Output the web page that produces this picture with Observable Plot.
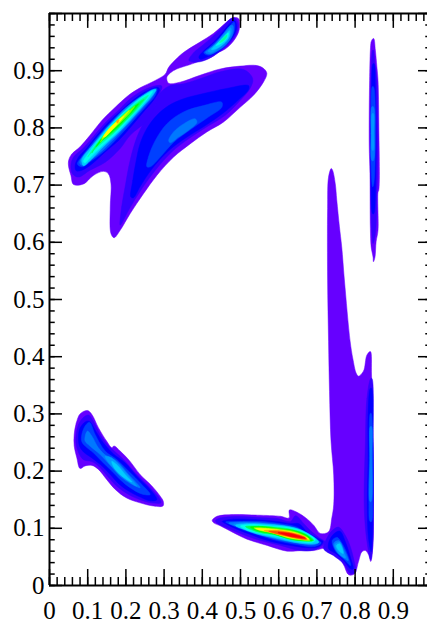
<!DOCTYPE html>
<html><head><meta charset="utf-8">
<style>html,body{margin:0;padding:0;background:#fff;overflow:hidden}svg{display:block}</style>
<script src="https://cdn.jsdelivr.net/npm/d3@7"></script>
<script src="https://cdn.jsdelivr.net/npm/@observablehq/plot@0.6"></script>
</head><body><div id="chart"></div>
<script>
const levelColors=["#6600ff","#3300ff","#0000ff","#0040ff","#0078ff","#0099ff","#00ccff","#00ffee","#00ffa0","#00ff55","#00ff00","#80ff00","#c8ff00","#ffff00","#ffaa00","#ff5500","#ff0000"];
const xMajor=[0,.1,.2,.3,.4,.5,.6,.7,.8,.9,1];
const yMajor=[0,.1,.2,.3,.4,.5,.6,.7,.8,.9,1];
const xMinor=d3.range(0,51).map(i=>i/50);
const yMinor=d3.range(0,51).map(i=>i/50);
const xLabels=[0,.1,.2,.3,.4,.5,.6,.7,.8,.9];
const yLabels=[0,.1,.2,.3,.4,.5,.6,.7,.8,.9];

const upperOutline=[[.050,.743],[.058,.754],[.080,.767],[.106,.787],[.137,.813],[.172,.836],[.207,.857],[.237,.870],[.277,.883],[.303,.894],[.312,.906],[.342,.927],[.360,.936],[.394,.950],[.429,.965],[.464,.985],[.482,.993],[.495,.991],[.497,.973],[.486,.956],[.460,.938],[.421,.927],[.386,.915],[.360,.909],[.333,.903],[.316,.896],[.307,.888],[.312,.878],[.342,.880],[.394,.892],[.447,.903],[.499,.908],[.543,.909],[.562,.903],[.569,.895],[.560,.880],[.534,.857],[.499,.836],[.455,.810],[.412,.793],[.368,.772],[.325,.749],[.281,.717],[.246,.685],[.211,.650],[.185,.621],[.169,.608],[.161,.615],[.159,.662],[.161,.702],[.154,.720],[.141,.724],[.115,.717],[.089,.702],[.063,.701],[.056,.717],[.050,.732]];
const body2=[[.185,.630],[.189,.662],[.198,.697],[.211,.743],[.229,.784],[.250,.813],[.277,.839],[.285,.857],[.312,.873],[.351,.877],[.403,.888],[.447,.898],[.508,.902],[.532,.886],[.525,.869],[.499,.848],[.460,.822],[.412,.802],[.364,.781],[.320,.758],[.277,.726],[.242,.694],[.207,.656],[.189,.633]];
const body3=[[.213,.679],[.218,.708],[.227,.743],[.237,.772],[.255,.799],[.281,.822],[.312,.839],[.351,.851],[.403,.860],[.464,.869],[.521,.874],[.521,.867],[.495,.849],[.455,.826],[.408,.804],[.360,.784],[.312,.760],[.268,.728],[.237,.697],[.220,.678]];
const body4=[[.255,.732],[.259,.749],[.277,.778],[.307,.807],[.351,.828],[.403,.839],[.451,.845],[.451,.836],[.416,.819],[.373,.799],[.325,.775],[.290,.749],[.264,.732]];
const body5=[[.312,.778],[.325,.793],[.351,.807],[.381,.816],[.386,.810],[.364,.796],[.338,.784],[.316,.774]];
const ridge2=[[.056,.734],[.063,.749],[.089,.765],[.115,.785],[.146,.809],[.181,.831],[.211,.851],[.246,.866],[.281,.874],[.294,.873],[.285,.854],[.277,.839],[.257,.814],[.211,.787],[.185,.764],[.146,.740],[.106,.726],[.076,.714],[.061,.719]];
const ridge3=[[.067,.734],[.076,.749],[.098,.765],[.124,.787],[.154,.810],[.189,.831],[.220,.849],[.250,.863],[.283,.871],[.288,.867],[.272,.848],[.250,.831],[.216,.804],[.181,.778],[.146,.758],[.111,.737],[.085,.726],[.070,.725]];
const ridge4=[[.073,.737],[.085,.750],[.106,.768],[.133,.790],[.163,.812],[.194,.832],[.229,.851],[.264,.866],[.281,.869],[.277,.857],[.255,.839],[.220,.813],[.185,.787],[.146,.761],[.111,.743],[.085,.732]];
const ridge5=[[.079,.739],[.089,.752],[.111,.769],[.137,.791],[.168,.813],[.198,.834],[.233,.851],[.265,.864],[.277,.866],[.270,.855],[.248,.838],[.213,.812],[.178,.787],[.141,.762],[.108,.744],[.087,.734]];
const ridge6=[[.082,.742],[.093,.754],[.115,.771],[.141,.793],[.172,.815],[.202,.835],[.236,.853],[.259,.861],[.275,.866],[.268,.857],[.242,.836],[.207,.812],[.175,.790],[.137,.765],[.106,.748],[.089,.739]];
const ridge7=[[.085,.744],[.106,.764],[.128,.781],[.154,.802],[.185,.822],[.216,.841],[.246,.857],[.272,.867],[.279,.867],[.270,.857],[.246,.839],[.211,.813],[.178,.790],[.141,.767],[.111,.746],[.089,.734]];
const ridge8=[[.089,.741],[.111,.764],[.133,.783],[.159,.803],[.189,.824],[.220,.842],[.250,.857],[.270,.864],[.264,.857],[.242,.839],[.207,.814],[.175,.791],[.137,.768],[.106,.748],[.093,.739]];
const ridge9=[[.100,.749],[.115,.765],[.137,.784],[.163,.804],[.194,.825],[.224,.842],[.250,.854],[.259,.857],[.253,.851],[.233,.835],[.201,.813],[.169,.791],[.133,.771],[.106,.754]];
const ridge10=[[.111,.756],[.124,.771],[.146,.789],[.169,.806],[.198,.825],[.227,.841],[.248,.850],[.237,.841],[.220,.828],[.194,.810],[.163,.790],[.133,.775],[.115,.761]];
const ridge11=[[.122,.767],[.134,.779],[.154,.795],[.176,.810],[.202,.826],[.233,.842],[.224,.834],[.204,.820],[.185,.806],[.159,.790],[.133,.775]];
const ridge12=[[.133,.775],[.146,.789],[.163,.802],[.183,.816],[.207,.829],[.223,.838],[.209,.825],[.185,.809],[.159,.793],[.141,.781]];
const ridge13=[[.137,.781],[.150,.793],[.169,.806],[.189,.819],[.209,.831],[.194,.818],[.172,.803],[.150,.789]];
const ridge14=[[.141,.784],[.154,.797],[.172,.809],[.194,.820],[.181,.809],[.163,.796],[.147,.785]];
const ridge15=[[.175,.812],[.182,.814],[.178,.808]];
const top2=[[.365,.918],[.378,.932],[.400,.944],[.426,.959],[.452,.976],[.474,.991],[.485,.992],[.494,.982],[.489,.964],[.470,.947],[.443,.932],[.417,.921],[.387,.915]];
const top3=[[.391,.924],[.404,.935],[.430,.950],[.456,.970],[.476,.985],[.485,.988],[.490,.976],[.483,.962],[.465,.947],[.439,.932],[.413,.924],[.395,.920]];
const top4=[[.404,.931],[.421,.942],[.448,.959],[.470,.976],[.483,.985],[.485,.973],[.478,.960],[.461,.944],[.439,.934],[.417,.927]];
const top5=[[.408,.932],[.430,.944],[.452,.962],[.474,.979],[.480,.979],[.480,.965],[.465,.948],[.443,.936],[.421,.929]];
const top6=[[.415,.934],[.435,.947],[.456,.963],[.474,.975],[.476,.967],[.465,.953],[.443,.940],[.424,.932]];
const top7=[[.424,.937],[.443,.950],[.461,.963],[.471,.970],[.470,.959],[.456,.947],[.435,.938]];
const top8=[[.436,.944],[.452,.956],[.468,.966],[.465,.957],[.452,.949]];
const top9=[[.445,.949],[.459,.960],[.465,.963],[.461,.956],[.450,.950]];
const stripOutline=[[.8466,.956],[.842,.950],[.840,.936],[.838,.883],[.837,.831],[.837,.767],[.839,.720],[.840,.624],[.842,.592],[.847,.574],[.848,.566],[.852,.574],[.855,.601],[.860,.621],[.860,.688],[.862,.691],[.862,.810],[.860,.883],[.857,.907],[.853,.936],[.849,.956]];
const strip2=[[.846,.936],[.842,.895],[.840,.831],[.840,.767],[.841,.674],[.844,.615],[.847,.598],[.853,.615],[.857,.674],[.860,.790],[.857,.883],[.852,.912],[.848,.936]];
const strip3=[[.847,.912],[.843,.866],[.841,.790],[.842,.697],[.846,.650],[.849,.650],[.854,.708],[.855,.802],[.853,.874],[.850,.912]];
const strip4=[[.845,.872],[.842,.819],[.842,.732],[.846,.697],[.849,.703],[.853,.767],[.853,.831],[.848,.872]];
const strip5=[[.844,.837],[.842,.790],[.844,.743],[.848,.743],[.851,.790],[.848,.837]];
const strip6=[[.845,.825],[.843,.790],[.845,.761],[.848,.761],[.849,.790],[.848,.825]];
const lowerOutline=[[.426,.114],[.439,.121],[.482,.124],[.544,.123],[.605,.121],[.627,.118],[.628,.132],[.648,.128],[.675,.116],[.692,.105],[.709,.091],[.7305,.094],[.739,.118],[.744,.141],[.744,.193],[.737,.252],[.733,.339],[.7305,.427],[.728,.534],[.728,.659],[.7305,.714],[.7375,.729],[.741,.726],[.748,.703],[.752,.674],[.759,.627],[.765,.592],[.772,.534],[.787,.427],[.794,.397],[.803,.371],[.809,.366],[.822,.375],[.831,.403],[.840,.409],[.843,.368],[.847,.252],[.848,.135],[.847,.077],[.841,.042],[.835,.054],[.827,.061],[.818,.059],[.809,.042],[.798,.020],[.783,.019],[.770,.036],[.748,.059],[.722,.065],[.691,.061],[.659,.061],[.622,.060],[.570,.070],[.517,.081],[.474,.095],[.448,.104],[.430,.1095]];
const bottom2=[[.4345,.1135],[.4476,.118],[.491,.1205],[.544,.119],[.596,.117],[.631,.112],[.644,.122],[.666,.108],[.683,.096],[.705,.084],[.7226,.0756],[.714,.070],[.692,.062],[.657,.061],[.605,.070],[.552,.0786],[.500,.091],[.461,.102],[.439,.109]];
const bottom3=[[.452,.112],[.482,.116],[.544,.115],[.596,.112],[.631,.108],[.653,.108],[.675,.093],[.705,.0815],[.716,.077],[.705,.068],[.675,.066],[.631,.070],[.579,.077],[.526,.089],[.482,.101],[.461,.108]];
const bottom4=[[.461,.111],[.500,.112],[.552,.112],[.605,.108],[.648,.102],[.675,.090],[.705,.0785],[.711,.074],[.692,.068],[.648,.0715],[.596,.0785],[.544,.089],[.500,.099],[.474,.1065]];
const bottom5=[[.469,.109],[.509,.111],[.561,.109],[.613,.105],[.657,.096],[.688,.083],[.705,.0756],[.692,.071],[.648,.0745],[.600,.080],[.548,.090],[.509,.099],[.482,.105]];
const bottom6=[[.482,.1065],[.517,.109],[.565,.108],[.622,.102],[.661,.093],[.692,.0815],[.702,.0756],[.688,.0727],[.648,.0774],[.600,.083],[.557,.091],[.517,.099],[.496,.103]];
const bottom7=[[.487,.105],[.517,.108],[.574,.1065],[.627,.103],[.666,.095],[.701,.0797],[.705,.0756],[.688,.0727],[.640,.0756],[.592,.083],[.548,.089],[.513,.097]];
const bottom8=[[.500,.104],[.535,.1065],[.583,.104],[.631,.101],[.670,.0925],[.696,.0797],[.683,.075],[.640,.0786],[.592,.0855],[.548,.0914],[.513,.098]];
const bottom10=[[.513,.103],[.548,.104],[.592,.102],[.635,.098],[.670,.090],[.692,.0786],[.675,.0774],[.635,.0797],[.592,.088],[.548,.093]];
const bottom11=[[.526,.102],[.557,.103],[.598,.0995],[.640,.096],[.673,.088],[.688,.0786],[.666,.0786],[.631,.081],[.587,.090],[.548,.095]];
const bottom12=[[.535,.1007],[.565,.1007],[.605,.0984],[.644,.0937],[.676,.084],[.682,.0786],[.657,.0797],[.627,.0826],[.587,.0914],[.552,.096]];
const bottom14=[[.539,.0995],[.574,.099],[.612,.096],[.648,.0914],[.679,.081],[.653,.081],[.622,.0844],[.583,.0925],[.548,.0972]];
const bottom15=[[.561,.096],[.592,.0966],[.627,.0937],[.661,.087],[.676,.0797],[.648,.082],[.618,.086],[.583,.092]];
const bottom16=[[.574,.095],[.600,.095],[.631,.092],[.666,.0855],[.673,.081],[.644,.083],[.613,.088],[.587,.092]];
const bottom17=[[.598,.0925],[.627,.0914],[.653,.087],[.670,.0826],[.644,.0844],[.618,.088]];
const lobe2=[[.727,.084],[.740,.096],[.757,.102],[.775,.087],[.788,.067],[.797,.044],[.801,.023],[.788,.021],[.770,.038],[.744,.052],[.718,.064]];
const lobe3=[[.731,.0756],[.744,.090],[.760,.095],[.775,.0756],[.788,.049],[.795,.029],[.788,.029],[.770,.0435],[.749,.056],[.731,.064]];
const lobe4=[[.740,.0785],[.753,.084],[.769,.070],[.784,.0465],[.788,.035],[.770,.0465],[.749,.060]];
const lobe5=[[.744,.074],[.757,.0785],[.770,.064],[.782,.0435],[.766,.0505],[.749,.062]];
const lobe6=[[.747,.0715],[.760,.0756],[.770,.058],[.775,.048],[.757,.056]];
const lobe7=[[.751,.0698],[.760,.0727],[.769,.056],[.757,.061]];
const side2=[[.841,.362],[.831,.327],[.827,.252],[.824,.135],[.831,.077],[.841,.045],[.846,.065],[.848,.135],[.847,.252],[.844,.362]];
const side3=[[.840,.345],[.834,.298],[.834,.223],[.832,.135],[.835,.083],[.842,.059],[.845,.083],[.847,.135],[.847,.252],[.843,.345]];
const side4=[[.840,.301],[.837,.223],[.836,.147],[.839,.112],[.843,.112],[.846,.153],[.846,.234],[.842,.301]];
const side5=[[.840,.278],[.839,.223],[.839,.147],[.842,.147],[.844,.223],[.843,.278]];
const leftOutline=[[.0646,.264],[.070,.284],[.080,.300],[.0995,.306],[.111,.299],[.128,.276],[.150,.252],[.163,.241],[.169,.244],[.185,.235],[.211,.217],[.237,.194],[.268,.174],[.290,.156],[.298,.147],[.297,.139],[.272,.139],[.237,.1445],[.202,.153],[.172,.168],[.150,.185],[.128,.203],[.111,.210],[.093,.209],[.080,.2045],[.0716,.223],[.0646,.244]];
const left2=[[.0698,.264],[.0759,.281],[.089,.294],[.102,.298],[.115,.287],[.1326,.264],[.1553,.2436],[.168,.236],[.194,.220],[.2243,.197],[.2635,.171],[.2876,.153],[.2915,.1445],[.268,.1445],[.2373,.150],[.207,.159],[.1763,.1736],[.1545,.189],[.128,.209],[.1108,.2166],[.089,.220],[.0785,.229],[.0698,.2465]];
const left3=[[.0759,.261],[.0803,.2756],[.0934,.286],[.1047,.287],[.1195,.272],[.1414,.249],[.1675,.230],[.198,.2145],[.2286,.191],[.2635,.168],[.281,.150],[.2635,.148],[.233,.156],[.207,.165],[.181,.178],[.159,.194],[.133,.2115],[.111,.223],[.089,.2335],[.0785,.244]];
const left4=[[.0846,.264],[.0934,.279],[.1047,.2855],[.1195,.264],[.1457,.235],[.1763,.220],[.2068,.200],[.2417,.1765],[.2635,.159],[.2417,.160],[.211,.171],[.185,.185],[.163,.200],[.137,.217],[.115,.232],[.0934,.2437],[.0846,.2515]];
const left5=[[.0934,.261],[.0995,.270],[.111,.261],[.128,.2407],[.150,.226],[.1763,.217],[.2068,.194],[.2373,.171],[.2155,.177],[.185,.191],[.163,.207],[.1326,.229],[.1065,.2436],[.0934,.252]];
const left6=[[.1457,.226],[.163,.223],[.185,.2086],[.2155,.185],[.2286,.1737],[.207,.182],[.181,.197],[.159,.2115]];
const left7=[[.163,.217],[.176,.211],[.198,.194],[.2155,.181],[.198,.187],[.172,.203]];

const layers=[
 [0,upperOutline],[0,stripOutline],[0,lowerOutline],[0,leftOutline],
 [1,body2],[1,ridge2],[1,top2],[1,strip2],[1,bottom2],[1,lobe2],[1,side2],[1,left2],
 [2,body3],[2,ridge3],[2,top3],[2,strip3],[2,bottom3],[2,lobe3],[2,side3],[2,left3],
 [3,body4],[3,ridge4],[3,top4],[3,strip4],[3,bottom4],[3,lobe4],[3,side4],[3,left4],
 [4,body5],[4,ridge5],[4,top5],[4,strip5],[4,bottom5],[4,lobe5],[4,side5],[4,left5],
 [5,ridge6],[5,top6],[5,strip6],[5,bottom6],[5,lobe6],[5,left6],
 [6,ridge7],[6,top7],[6,bottom7],[6,lobe7],[6,left7],
 [7,ridge8],[7,top8],[7,bottom8],
 [8,ridge9],[8,top9],
 [9,ridge10],[9,bottom10],
 [10,ridge11],[10,bottom11],
 [11,ridge12],[11,bottom12],
 [12,ridge13],
 [13,ridge14],[13,bottom14],
 [14,ridge15],[14,bottom15],
 [15,bottom16],
 [16,bottom17]
];
const black="#000";
const tickMarks=[
 Plot.ruleX(xMinor,{x:d=>d,y1:0,y2:.014,stroke:black,strokeWidth:1.5}),
 Plot.ruleX(xMajor,{x:d=>d,y1:0,y2:.028,stroke:black,strokeWidth:1.5}),
 Plot.ruleX(xMinor,{x:d=>d,y1:1,y2:.986,stroke:black,strokeWidth:1.5}),
 Plot.ruleX(xMajor,{x:d=>d,y1:1,y2:.974,stroke:black,strokeWidth:1.5}),
 Plot.ruleY(yMinor,{y:d=>d,x1:0,x2:.015,stroke:black,strokeWidth:1.5}),
 Plot.ruleY(yMajor,{y:d=>d,x1:0,x2:.034,stroke:black,strokeWidth:1.5}),
 Plot.ruleY(yMinor,{y:d=>d,x1:1,x2:.985,stroke:black,strokeWidth:1.5}),
 Plot.ruleY(yMajor,{y:d=>d,x1:1,x2:.966,stroke:black,strokeWidth:1.5}),
 Plot.ruleX([0,1],{stroke:black,strokeWidth:2}),
 Plot.ruleY([0,1],{stroke:black,strokeWidth:2})
];
const chart=Plot.plot({
 width:427,height:621,
 marginLeft:49,marginRight:-4,marginTop:13,marginBottom:36,
 style:{fontFamily:"'Liberation Serif',serif",background:"#fff",color:"#000"},
 x:{domain:[0,1],range:[49,431],axis:null},
 y:{domain:[0,1],range:[585,13],axis:null},
 marks:[
  ...layers.map(([level,pts])=>Plot.line(pts,{x:d=>d[0],y:d=>d[1],fill:levelColors[level],stroke:levelColors[level],strokeWidth:.5,curve:"catmull-rom-closed"})),
  ...tickMarks,
  Plot.text(xLabels,{x:d=>d,y:0,text:d=>String(d),dy:25,fontSize:25,fill:black,lineAnchor:"middle",fontVariant:"normal"}),
  Plot.text(yLabels,{y:d=>d,x:0,text:d=>String(d),dx:-5,fontSize:25,fill:black,textAnchor:"end",lineAnchor:"middle",fontVariant:"normal"})
 ]
});
document.getElementById("chart").append(chart);
</script></body></html>
